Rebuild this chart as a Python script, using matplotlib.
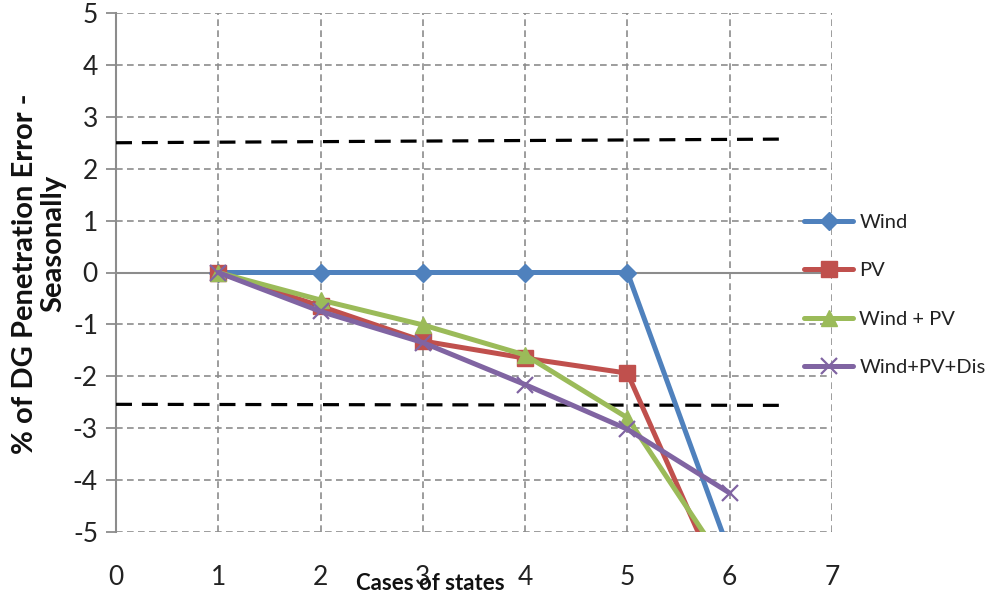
import matplotlib
matplotlib.use("Agg")
import matplotlib.pyplot as plt

plt.rcParams['font.family'] = ["Lato", 'DejaVu Sans']
plt.rcParams['axes.unicode_minus'] = False

# ---- data ----
cases = [1, 2, 3, 4, 5, 6]
wind = [0, 0, 0, 0, 0, -5.4]
pv = [0, -0.65, -1.32, -1.65, -1.94, -6.37]
wind_pv = [0, -0.53, -1.01, -1.59, -2.80, -5.77]
wind_pv_dis = [0, -0.75, -1.35, -2.16, -3.02, -4.25]
upper_x = [0, 6.5]
upper_y = [2.50, 2.57]
lower_x = [0, 6.5]
lower_y = [-2.54, -2.56]
xticks = [0, 1, 2, 3, 4, 5, 6, 7]
yticks = [-5, -4, -3, -2, -1, 0, 1, 2, 3, 4, 5]
series_labels = ["Wind", "PV", "Wind + PV", "Wind+PV+Dis"]

colors = ["#4F81BD", "#C0504D", "#9BBB59", "#8064A2"]
markers = ["D", "s", "^", "x"]
msizes = [9, 11, 11, 12]

fig = plt.figure(figsize=(9.91, 6.01), dpi=100)
ax = fig.add_axes([116/991, 1-532/601, (832-116)/991, (532-13)/601])
ax.set_xlim(0, 7)
ax.set_ylim(-5, 5)

gridc = "#8C8C8C"
for y in yticks:
    if y != 0:
        ax.axhline(y, color=gridc, lw=1.2, dashes=(4, 2.6), zorder=1)
for x in xticks[1:]:
    ax.axvline(x, color=gridc, lw=1.2, dashes=(4, 2.6), zorder=1)
ax.axhline(0, color="#8C8C8C", lw=1.5, zorder=1)

ax.plot(upper_x, upper_y, color="black", lw=2.3, dashes=(5.0, 3.1), zorder=2)
ax.plot(lower_x, lower_y, color="black", lw=2.3, dashes=(5.0, 3.1), zorder=2)

handles = []
for vals, c, m, ms, lab in zip([wind, pv, wind_pv, wind_pv_dis], colors, markers, msizes, series_labels):
    mew = 1.6 if m == "x" else 1
    h, = ax.plot(cases, vals, color=c, lw=3.6, marker=m, markersize=ms,
                 markeredgewidth=mew, markeredgecolor=c, label=lab, zorder=3,
                 solid_capstyle="round")
    handles.append(h)

for s in ["top", "right", "bottom"]:
    ax.spines[s].set_visible(False)
ax.spines["left"].set_color("#8C8C8C")
ax.spines["left"].set_linewidth(1.5)
ax.spines["left"].set_zorder(1)

ax.set_xticks(xticks)
ax.set_yticks(yticks)
ax.tick_params(axis="x", length=0, pad=24, labelsize=19, colors="#222222")
ax.tick_params(axis="y", length=7, width=1.3, color="#8C8C8C", direction="out",
               pad=6, labelsize=19, labelcolor="#222222")

fig.text(430/991, 1-584/601, "Cases of states", ha="center", va="center",
         fontsize=16, fontweight="bold", color="#111111")
fig.text(25/991, 1-274/601, "% of DG Penetration Error -", ha="center",
         va="center", rotation=90, fontsize=21, fontweight="bold", color="#111111")
fig.text(53/991, 1-243/601, "Seasonally", ha="center",
         va="center", rotation=90, fontsize=21, fontweight="bold", color="#111111")

leg = fig.legend(handles=handles, loc="upper left", bbox_to_anchor=(796/991, 1-206/601),
                 frameon=False, fontsize=14.5, handlelength=2.45, handletextpad=0.3,
                 labelspacing=1.55, borderaxespad=0)
for t in leg.get_texts():
    t.set_color("#222222")

fig.savefig("out.png", dpi=100)
